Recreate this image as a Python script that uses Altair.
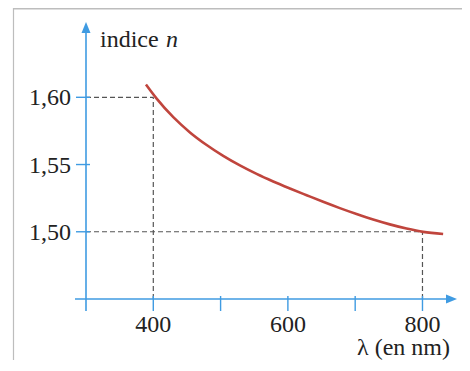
import altair as alt
import pandas as pd

# ---- data ----
wavelength_nm = [389.1, 405.0, 429.7, 454.5, 479.3, 503.9, 528.7, 553.5, 578.2, 603.0,
                 627.8, 652.4, 677.2, 702.0, 726.7, 751.5, 776.3, 801.0, 830.7]
index_n = [1.6095, 1.5990, 1.5852, 1.5739, 1.5645, 1.5564, 1.5493, 1.5430, 1.5374, 1.5322,
           1.5272, 1.5223, 1.5176, 1.5132, 1.5091, 1.5055, 1.5024, 1.4999, 1.4983]

x_tick_values = [400, 500, 600, 700, 800]
x_label_values = [400, 600, 800]
x_label_texts = ["400", "600", "800"]
y_tick_values = [1.50, 1.55, 1.60]
y_label_texts = ["1,50", "1,55", "1,60"]
x_origin = 300
y_origin = 1.45
x_end = 851.3
y_end = 1.656

# guide segments (x, y) -> (x2, y2)
guide_x = [300, 400, 300, 800]
guide_y = [1.60, 1.45, 1.50, 1.45]
guide_x2 = [400, 400, 800, 800]
guide_y2 = [1.60, 1.60, 1.50, 1.50]

BLUE = "#3f9be2"
RED = "#c0453d"
GREY = "#555555"
FONT = "Times New Roman, Liberation Serif, DejaVu Serif, serif"

xs = alt.Scale(domain=[x_origin, x_end], nice=False, zero=False)
ys = alt.Scale(domain=[y_origin, y_end], nice=False, zero=False)


def X(f):
    return alt.X(f, type="quantitative", scale=xs, axis=None)


def Y(f):
    return alt.Y(f, type="quantitative", scale=ys, axis=None)


curve_df = pd.DataFrame({"lam": wavelength_nm, "n": index_n})
guide_df = pd.DataFrame({"lam": guide_x, "n": guide_y, "lam2": guide_x2, "n2": guide_y2})
xt_df = pd.DataFrame({"lam": x_tick_values})
xl_df = pd.DataFrame({"lam": x_label_values, "t": x_label_texts, "n": [y_origin] * 3})
yt_df = pd.DataFrame({"n": y_tick_values, "t": y_label_texts, "lam": [x_origin] * 3})
one = pd.DataFrame({"lam": [x_origin], "n": [y_origin]})

# frame (picture border)
frame_left = alt.Chart(one).mark_rule(color="#bdbdbd", strokeWidth=1.2).encode(
    x=alt.value(-72.5), y=alt.value(-14), y2=alt.value(340))
frame_top = alt.Chart(one).mark_rule(color="#bdbdbd", strokeWidth=1.5).encode(
    x=alt.value(-72.5), x2=alt.value(376), y=alt.value(-13.2))

guides = alt.Chart(guide_df).mark_rule(color=GREY, strokeWidth=1.2, strokeDash=[5, 3]).encode(
    x=X("lam"), y=Y("n"), x2="lam2", y2="n2")

# axes
x_axis = alt.Chart(one).mark_rule(color=BLUE, strokeWidth=1.6).encode(
    x=alt.value(-11), x2=alt.value(364), y=Y("n"))
y_axis = alt.Chart(one).mark_rule(color=BLUE, strokeWidth=1.6).encode(
    x=X("lam"), y=alt.value(289), y2=alt.value(6))

x_arrow = alt.Chart(pd.DataFrame({"lam": [x_end], "n": [y_origin]})).mark_point(
    shape="M0,0L-2.2,-0.9L-2.2,0.9Z", filled=True, size=100, opacity=1, color=BLUE, strokeWidth=0
).encode(x=X("lam"), y=Y("n"))
y_arrow = alt.Chart(pd.DataFrame({"lam": [x_origin], "n": [y_end]})).mark_point(
    shape="M0,0L-0.9,2.2L0.9,2.2Z", filled=True, size=100, opacity=1, color=BLUE, strokeWidth=0
).encode(x=X("lam"), y=Y("n"))

x_ticks = alt.Chart(xt_df).mark_rule(color=BLUE, strokeWidth=1.4).encode(
    x=X("lam"), y=alt.value(274), y2=alt.value(289))
y_ticks = alt.Chart(yt_df).mark_rule(color=BLUE, strokeWidth=1.4).encode(
    y=Y("n"), x=alt.value(-10), x2=alt.value(4))

x_labels = alt.Chart(xl_df).mark_text(
    font=FONT, fontSize=24, color="#222222", align="center", baseline="alphabetic", dy=33
).encode(x=X("lam"), y=Y("n"), text="t:N")
y_labels = alt.Chart(yt_df).mark_text(
    font=FONT, fontSize=24, color="#222222", align="right", baseline="middle", dx=-15, dy=1
).encode(x=X("lam"), y=Y("n"), text="t:N")

y_title = alt.Chart(one).mark_text(
    font=FONT, fontSize=24, color="#222222", align="left", baseline="alphabetic", text="indice"
).encode(x=alt.value(14), y=alt.value(25))
y_title_n = alt.Chart(one).mark_text(
    font=FONT, fontSize=24, color="#222222", align="left", baseline="alphabetic",
    fontStyle="italic", text="n"
).encode(x=alt.value(80), y=alt.value(25))
x_title = alt.Chart(one).mark_text(
    font=FONT, fontSize=24, color="#222222", align="right", baseline="alphabetic", text="λ (en nm)"
).encode(x=alt.value(364), y=alt.value(333))

curve = alt.Chart(curve_df).mark_line(color=RED, strokeWidth=2.6, interpolate="monotone").encode(
    x=X("lam"), y=Y("n"))

chart = alt.layer(
    frame_left, frame_top, guides, x_axis, y_axis, x_ticks, y_ticks, x_arrow, y_arrow,
    x_labels, y_labels, y_title, y_title_n, x_title, curve
).properties(
    width=371, height=277,
    autosize=alt.AutoSizeParams(type="none"),
    padding={"left": 78, "top": 14, "right": 5, "bottom": 61},
    background="white",
).configure_view(stroke=None)

chart.save("out.html", embed_options={"renderer": "svg", "actions": False})
